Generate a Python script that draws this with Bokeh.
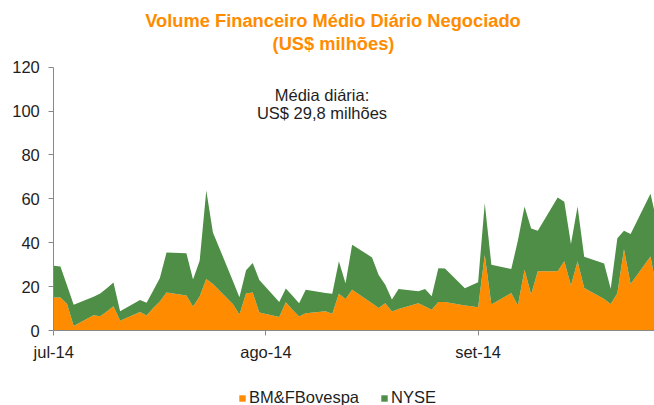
import pandas as pd
from bokeh.plotting import figure
from bokeh.models import Range1d, FixedTicker, Label, Legend, LegendItem, ColumnDataSource
from bokeh.embed import file_html
from bokeh.resources import INLINE

# ---- data (US$ milhões) ----
dates = [
    "2014-07-01", "2014-07-02", "2014-07-03", "2014-07-04",
    "2014-07-07", "2014-07-08", "2014-07-09", "2014-07-10", "2014-07-11",
    "2014-07-14", "2014-07-15", "2014-07-16", "2014-07-17", "2014-07-18",
    "2014-07-21", "2014-07-22", "2014-07-23", "2014-07-24", "2014-07-25",
    "2014-07-28", "2014-07-29", "2014-07-30", "2014-07-31", "2014-08-01",
    "2014-08-04", "2014-08-05", "2014-08-06", "2014-08-07", "2014-08-08",
    "2014-08-11", "2014-08-12", "2014-08-13", "2014-08-14", "2014-08-15",
    "2014-08-18", "2014-08-19", "2014-08-20", "2014-08-21", "2014-08-22",
    "2014-08-25", "2014-08-26", "2014-08-27", "2014-08-28", "2014-08-29",
    "2014-09-01", "2014-09-02", "2014-09-03", "2014-09-04", "2014-09-05",
    "2014-09-08", "2014-09-09", "2014-09-10", "2014-09-11", "2014-09-12",
    "2014-09-15", "2014-09-16", "2014-09-17", "2014-09-18", "2014-09-19",
    "2014-09-22", "2014-09-23", "2014-09-24", "2014-09-25", "2014-09-26",
    "2014-09-29", "2014-09-30",
]
bmfbovespa = [
    15.0, 15.0, 12.1, 2.0,
    7.0, 6.5, 8.6, 11.0, 4.4,
    8.4, 6.8, 10.3, 13.2, 17.3,
    15.9, 10.9, 15.5, 23.5, 21.2,
    12.1, 7.3, 16.8, 17.3, 8.2,
    6.1, 12.9, 9.5, 6.4, 7.9,
    8.8, 7.6, 16.7, 14.4, 18.6,
    12.4, 10.2, 12.4, 8.6, 9.8,
    12.4, 10.9, 9.4, 13.0, 13.0,
    11.4, 11.1, 10.6, 34.4, 11.8,
    17.1, 11.4, 27.7, 16.4, 27.0,
    27.0, 31.5, 20.5, 31.5, 19.4,
    14.4, 12.1, 17.0, 37.0, 21.2,
    33.7, 18.0,
]
nyse = [
    14.5, 14.2, 8.4, 9.7,
    8.4, 10.3, 10.7, 10.9, 4.4,
    5.5, 5.8, 7.9, 10.7, 18.2,
    19.3, 12.3, 16.3, 40.3, 23.5,
    10.6, 7.9, 10.6, 13.5, 14.8,
    6.9, 6.2, 6.3, 6.0, 10.7,
    8.3, 9.1, 14.8, 7.1, 20.5,
    20.9, 15.1, 8.4, 5.5, 9.1,
    5.5, 8.0, 6.2, 15.4, 15.3,
    7.8, 9.5, 11.4, 23.6, 18.2,
    10.9, 29.6, 28.8, 30.1, 18.5,
    33.6, 27.1, 18.9, 25.0, 14.2,
    16.1, 6.9, 25.0, 8.5, 22.8,
    28.6, 31.0,
]
series_names = ["BM&FBovespa", "NYSE"]
series_colors = ["#FF8C00", "#4F8E47"]

# axis ticks (every 32 days, as in the source chart) and their labels
x_tick_dates = ["2014-07-01", "2014-08-02", "2014-09-03"]
x_tick_labels = ["jul-14", "ago-14", "set-14"]
y_ticks = [0, 20, 40, 60, 80, 100, 120]
y_max = 120

title_line1 = "Volume Financeiro Médio Diário Negociado"
title_line2 = "(US$ milhões)"
note_line1 = "Média diária:"
note_line2 = "US$ 29,8 milhões"

FONT = "Liberation Sans"
TXT = "#1E1E1E"
AXIS = "#888888"
TITLE_COLOR = "#FF8C00"

W, H = 654, 405
# layout of the plotting area inside the canvas (pixels)
AX_LEFT, AX_TOP, AX_BOTTOM = 53.3, 66.6, 330.0
PX_PER_DAY = 6.63

source = ColumnDataSource(dict(date=pd.to_datetime(dates), bmf=bmfbovespa, nyse=nyse))

x0 = pd.Timestamp(dates[0])
x_start = x0 - pd.Timedelta(hours=24 * AX_LEFT / PX_PER_DAY)
x_end = x0 + pd.Timedelta(hours=24 * (W - AX_LEFT) / PX_PER_DAY)
px_per_unit = (AX_BOTTOM - AX_TOP) / y_max
y_min = -(H - AX_BOTTOM) / px_per_unit
y_top = y_max + AX_TOP / px_per_unit

# the frame fills the canvas; both axes are pinned at the data origin
p = figure(width=W, height=H, x_axis_type="datetime",
           x_range=Range1d(x_start, x_end), y_range=Range1d(y_min, y_top),
           output_backend="svg", toolbar_location=None,
           min_border_left=0, min_border_right=0,
           min_border_top=0, min_border_bottom=0)

renderers = p.varea_stack(["bmf", "nyse"], x="date", color=series_colors, source=source)

p.outline_line_color = None
p.xgrid.visible = False
p.ygrid.visible = False
p.background_fill_color = "white"
p.border_fill_color = "white"
p.title.visible = False

tick_ms = [int(pd.Timestamp(d).timestamp() * 1000) for d in x_tick_dates]
x0_ms = tick_ms[0]
x_end_ms = int(x_end.timestamp() * 1000)

p.xaxis.ticker = FixedTicker(ticks=tick_ms)
p.xaxis.major_label_overrides = {ms: lab for ms, lab in zip(tick_ms, x_tick_labels)}
p.xaxis.fixed_location = 0
p.xaxis.bounds = (x0_ms, x_end_ms)
p.yaxis.ticker = FixedTicker(ticks=y_ticks)
p.yaxis.fixed_location = x0_ms
p.yaxis.bounds = (0, y_max)
for ax in (p.xaxis, p.yaxis):
    ax.axis_line_color = AXIS
    ax.major_tick_line_color = AXIS
    ax.major_tick_in = 0
    ax.major_tick_out = 5
    ax.minor_tick_line_color = None
    ax.major_label_text_font = FONT
    ax.major_label_text_font_size = "16.5px"
    ax.major_label_text_color = TXT
p.yaxis.major_label_standoff = 9
p.xaxis.major_label_standoff = 7

# texts (screen units measured from the canvas' bottom-left corner)
texts = [
    (title_line1, 332.5, 20, "18.3px", "bold", TITLE_COLOR),
    (title_line2, 333.0, 43, "18.3px", "bold", TITLE_COLOR),
    (note_line1, 321.5, 94, "16.5px", "normal", TXT),
    (note_line2, 321.5, 112, "16.5px", "normal", TXT),
]
for txt, xpx, ypx, size, style, color in texts:
    p.add_layout(Label(x=xpx, y=H - ypx, x_units="screen", y_units="screen", text=txt,
                       text_align="center", text_baseline="middle", text_font=FONT,
                       text_font_size=size, text_font_style=style, text_color=color))

# legend under the axis
legend = Legend(items=[LegendItem(label=n, renderers=[r]) for n, r in zip(series_names, renderers)],
                orientation="horizontal", location=(238, -2),
                glyph_width=8, glyph_height=8, label_standoff=3, spacing=21, padding=0,
                border_line_color=None, background_fill_alpha=0,
                label_text_font=FONT, label_text_font_size="16.5px", label_text_color=TXT)
p.add_layout(legend)

open("out.html", "w").write(file_html(p, INLINE))
